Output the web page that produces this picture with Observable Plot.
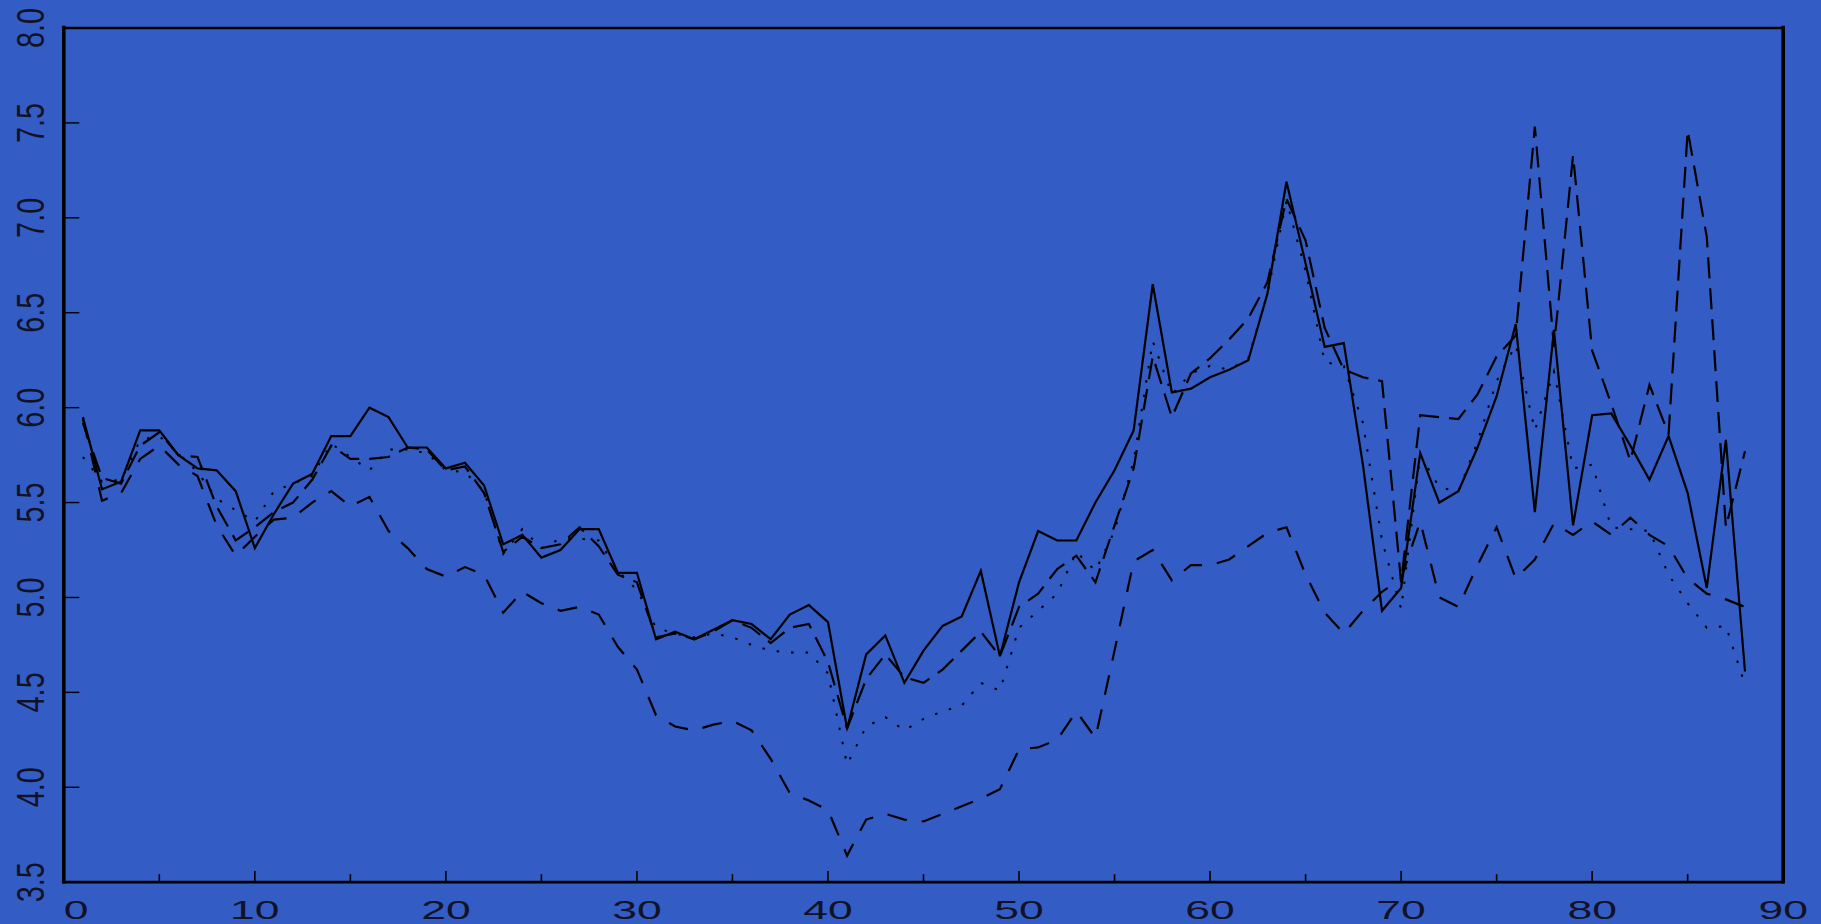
<!DOCTYPE html>
<html><head><meta charset="utf-8">
<script src="https://cdn.jsdelivr.net/npm/d3@7"></script>
<script src="https://cdn.jsdelivr.net/npm/@observablehq/plot@0.6"></script>
<style>html,body{margin:0;padding:0;background:#335DC5;overflow:hidden}</style>
</head><body><div id="chart"></div>
<script>
// ---- data (x = 1..88) ----
const solid = [5.95,5.57,5.61,5.88,5.88,5.75,5.68,5.67,5.56,5.26,5.44,5.60,5.65,5.85,5.85,6.00,5.95,5.79,5.79,5.68,
5.71,5.59,5.28,5.33,5.21,5.25,5.36,5.36,5.13,5.13,4.78,4.82,4.78,4.83,4.88,4.86,4.78,4.91,4.96,4.87,
4.31,4.70,4.80,4.55,4.72,4.85,4.90,5.14,4.69,5.08,5.35,5.30,5.30,5.50,5.67,5.88,6.65,6.08,6.10,6.16,
6.20,6.25,6.60,7.19,6.76,6.32,6.34,5.70,4.93,5.05,5.76,5.50,5.56,5.79,6.06,6.44,5.45,6.41,5.38,5.96,
5.97,5.80,5.62,5.85,5.55,5.05,5.83,4.61];
const dotted = [5.74,5.61,5.62,5.83,5.85,5.76,5.66,5.52,5.46,5.40,5.56,5.60,5.64,5.81,5.74,5.67,5.78,5.78,5.76,5.67,
5.66,5.56,5.23,5.36,5.26,5.31,5.31,5.30,5.14,5.04,4.84,4.81,4.79,4.81,4.79,4.75,4.72,4.71,4.71,4.60,
4.12,4.32,4.37,4.30,4.36,4.40,4.43,4.55,4.51,4.84,4.93,5.02,5.24,5.14,5.35,5.72,6.35,6.07,6.18,6.22,
6.20,6.26,6.60,7.09,6.72,6.24,6.22,5.92,5.30,4.94,5.75,5.58,5.56,5.82,6.14,6.33,5.88,6.19,5.68,5.70,
5.37,5.36,5.35,5.12,4.97,4.84,4.85,4.54];
const longdash = [5.92,5.63,5.60,5.80,5.87,5.75,5.74,5.48,5.30,5.37,5.45,5.50,5.62,5.80,5.73,5.73,5.74,5.79,5.78,5.67,
5.69,5.55,5.24,5.32,5.26,5.28,5.37,5.27,5.12,5.08,4.79,4.81,4.78,4.82,4.88,4.84,4.76,4.84,4.86,4.66,
4.31,4.57,4.70,4.58,4.55,4.62,4.72,4.82,4.69,4.95,5.02,5.15,5.22,5.08,5.38,5.68,6.27,5.95,6.18,6.26,
6.36,6.47,6.66,7.10,6.88,6.42,6.20,6.16,6.14,5.08,5.96,5.95,5.94,6.07,6.27,6.38,7.48,6.32,7.33,6.30,
6.02,5.72,6.12,5.86,7.46,6.90,5.37,5.77];
const dashed = [5.94,5.51,5.55,5.73,5.80,5.70,5.64,5.38,5.22,5.32,5.41,5.42,5.50,5.56,5.48,5.53,5.35,5.26,5.15,5.11,
5.16,5.12,4.92,5.03,4.97,4.93,4.95,4.91,4.74,4.62,4.38,4.32,4.30,4.33,4.35,4.30,4.15,3.97,3.93,3.88,
3.64,3.83,3.86,3.83,3.82,3.86,3.90,3.94,3.99,4.20,4.21,4.25,4.40,4.26,4.72,5.19,5.25,5.09,5.17,5.17,
5.20,5.27,5.34,5.37,5.12,4.92,4.81,4.93,5.03,5.10,5.40,5.00,4.95,5.17,5.37,5.10,5.20,5.39,5.33,5.40,
5.33,5.42,5.33,5.27,5.10,5.02,4.99,4.95];

const xMajor = [0,10,20,30,40,50,60,70,80,90];
const xMajorLabels = ["0","10","20","30","40","50","60","70","80","90"];
const xMinor = [5,15,25,35,45,55,65,75,85];
const yTicks = [3.5,4.0,4.5,5.0,5.5,6.0,6.5,7.0,7.5,8.0];
const yTickLabels = ["3.5","4.0","4.5","5.0","5.5","6.0","6.5","7.0","7.5","8.0"];

const seriesDefs = [
  {name: "solid", values: solid, dash: null, width: 2.2},
  {name: "dotted", values: dotted, dash: "2.5,12", width: 2},
  {name: "longdash", values: longdash, dash: "21,10", width: 2.2},
  {name: "dashed", values: dashed, dash: "20,15", width: 2.2}
];
const rows = seriesDefs.flatMap(s => s.values.map((v, i) => ({series: s.name, x: i + 1, y: v})));

// ---- layout ----
const W = 1821, H = 924;
const mL = 63.3, mR = 38.3, mT = 27.5, mB = 42.3;
const innerW = W - mL - mR, innerH = H - mT - mB;
const BG = "#335DC5", INK = "#000";
const FONT = "'Liberation Sans', Arial, Helvetica, sans-serif";

const lineMarks = seriesDefs.map(s => Plot.line(rows.filter(r => r.series === s.name), {
  x: "x", y: "y", stroke: INK, strokeWidth: s.width,
  strokeDasharray: s.dash, strokeLinecap: "butt",
  strokeLinejoin: "miter", strokeMiterlimit: 4
}));

const chart = Plot.plot({
  width: W, height: H,
  marginLeft: mL, marginRight: mR, marginTop: mT, marginBottom: mB,
  x: {domain: [0, 90], axis: null},
  y: {domain: [3.5, 8], axis: null},
  style: {background: BG, color: "#111", fontFamily: FONT, overflow: "visible"},
  marks: [
    ...lineMarks,
    Plot.ruleX(xMajor, {x: d => d, insetTop: innerH - 10.7, stroke: INK, strokeWidth: 1.6}),
    Plot.ruleX(xMinor, {x: d => d, insetTop: innerH - 7.5, stroke: INK, strokeWidth: 1.6}),
    Plot.ruleY(yTicks, {y: d => d, insetRight: innerW - 16, stroke: INK, strokeWidth: 1.4}),
    Plot.ruleX([0, 90], {x: d => d, stroke: INK, strokeWidth: 3.6, strokeLinecap: "square"}),
    Plot.ruleY([3.5, 8], {y: d => d, stroke: INK, strokeWidth: 2.7, strokeLinecap: "square"}),
    Plot.text(yTicks, {y: d => d, text: (d, i) => yTickLabels[i], frameAnchor: "left", dx: -20.3,
      rotate: -90, lineAnchor: "bottom", textAnchor: "middle", fontSize: 39, fill: "#121226", fontFamily: FONT}),
    Plot.text(xMajor, {x: d => d, text: (d, i) => xMajorLabels[i], frameAnchor: "bottom", dy: 18,
      lineAnchor: "top", textAnchor: "middle", fontSize: 26.5, fill: "#121226", fontFamily: FONT})
  ]
});
document.getElementById("chart").appendChild(chart);

// anisotropic glyph shapes of the original (tall narrow y labels, wide x labels)
const svg = chart.tagName.toLowerCase() === "svg" ? chart : chart.querySelector("svg");
function scaleTexts(group, sx, sy) {
  group.querySelectorAll("text").forEach(t => {
    const tr = t.getAttribute("transform");
    if (tr) {
      t.setAttribute("transform", tr + ` scale(${sx},${sy})`);
    } else {
      const x = +t.getAttribute("x") || 0, y = +t.getAttribute("y") || 0;
      t.removeAttribute("x"); t.removeAttribute("y");
      t.setAttribute("transform", `translate(${x},${y}) scale(${sx},${sy})`);
    }
  });
}
const textGroups = svg.querySelectorAll('g[aria-label="text"]');
if (textGroups.length >= 2) {
  scaleTexts(textGroups[0], 0.74, 1);
  scaleTexts(textGroups[1], 1.68, 1);
  const first = textGroups[1].querySelector("text");
  if (first) first.setAttribute("text-anchor", "start");
}
</script>
</body></html>
